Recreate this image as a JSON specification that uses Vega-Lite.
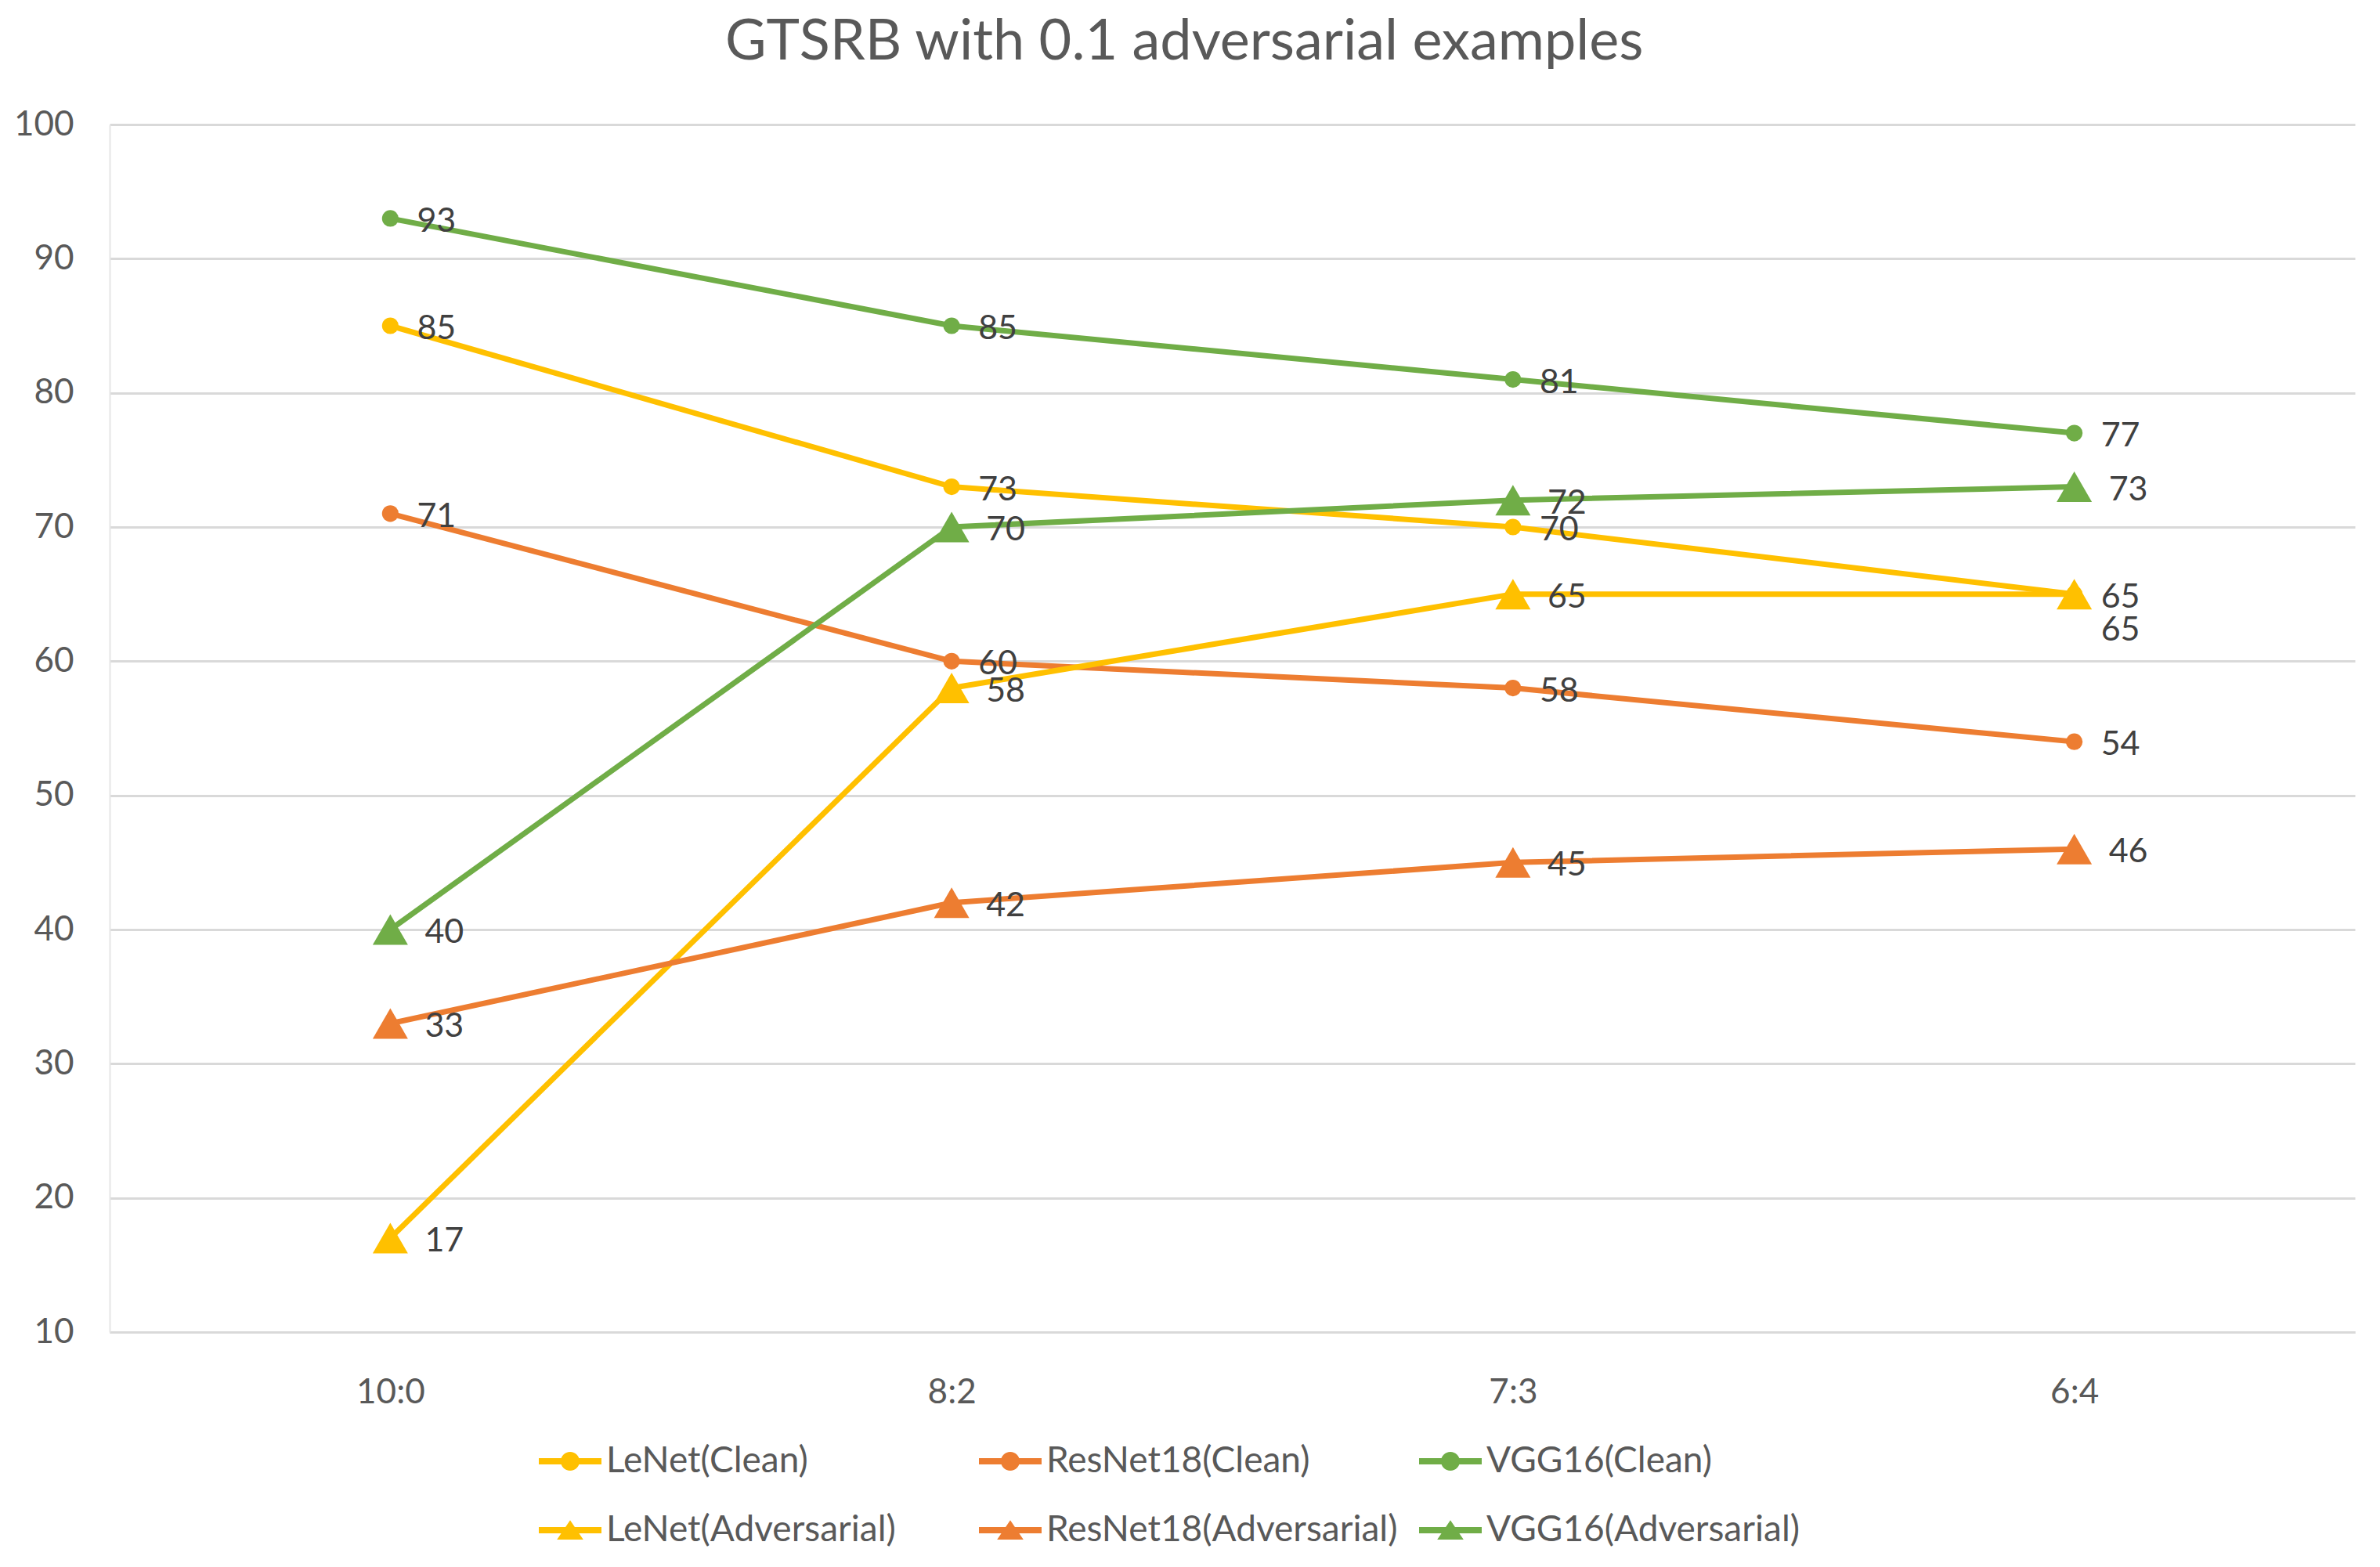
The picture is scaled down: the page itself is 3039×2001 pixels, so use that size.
{
  "$schema": "https://vega.github.io/schema/vega-lite/v6.json",
  "autosize": {"type": "none"},
  "width": 2867,
  "height": 1542,
  "padding": {"left": 140, "right": 32, "top": 159, "bottom": 300},
  "background": "white",
  "title": {
    "text": "GTSRB with 0.1 adversarial examples",
    "fontSize": 72,
    "font": "Lato",
    "fontWeight": "normal",
    "color": "#595959",
    "anchor": "middle",
    "frame": "bounds",
    "offset": 46
  },
  "data": {
    "values": [
      {"ratio": "10:0", "series": "LeNet(Clean)", "kind": "Clean", "value": 85},
      {"ratio": "8:2", "series": "LeNet(Clean)", "kind": "Clean", "value": 73},
      {"ratio": "7:3", "series": "LeNet(Clean)", "kind": "Clean", "value": 70},
      {"ratio": "6:4", "series": "LeNet(Clean)", "kind": "Clean", "value": 65},
      {"ratio": "10:0", "series": "ResNet18(Clean)", "kind": "Clean", "value": 71},
      {"ratio": "8:2", "series": "ResNet18(Clean)", "kind": "Clean", "value": 60},
      {"ratio": "7:3", "series": "ResNet18(Clean)", "kind": "Clean", "value": 58},
      {"ratio": "6:4", "series": "ResNet18(Clean)", "kind": "Clean", "value": 54},
      {"ratio": "10:0", "series": "VGG16(Clean)", "kind": "Clean", "value": 93},
      {"ratio": "8:2", "series": "VGG16(Clean)", "kind": "Clean", "value": 85},
      {"ratio": "7:3", "series": "VGG16(Clean)", "kind": "Clean", "value": 81},
      {"ratio": "6:4", "series": "VGG16(Clean)", "kind": "Clean", "value": 77},
      {"ratio": "10:0", "series": "LeNet(Adversarial)", "kind": "Adversarial", "value": 17},
      {"ratio": "8:2", "series": "LeNet(Adversarial)", "kind": "Adversarial", "value": 58},
      {"ratio": "7:3", "series": "LeNet(Adversarial)", "kind": "Adversarial", "value": 65},
      {"ratio": "6:4", "series": "LeNet(Adversarial)", "kind": "Adversarial", "value": 65},
      {"ratio": "10:0", "series": "ResNet18(Adversarial)", "kind": "Adversarial", "value": 33},
      {"ratio": "8:2", "series": "ResNet18(Adversarial)", "kind": "Adversarial", "value": 42},
      {"ratio": "7:3", "series": "ResNet18(Adversarial)", "kind": "Adversarial", "value": 45},
      {"ratio": "6:4", "series": "ResNet18(Adversarial)", "kind": "Adversarial", "value": 46},
      {"ratio": "10:0", "series": "VGG16(Adversarial)", "kind": "Adversarial", "value": 40},
      {"ratio": "8:2", "series": "VGG16(Adversarial)", "kind": "Adversarial", "value": 70},
      {"ratio": "7:3", "series": "VGG16(Adversarial)", "kind": "Adversarial", "value": 72},
      {"ratio": "6:4", "series": "VGG16(Adversarial)", "kind": "Adversarial", "value": 73}
    ]
  },
  "encoding": {
    "x": {
      "field": "ratio",
      "type": "ordinal",
      "sort": ["10:0", "8:2", "7:3", "6:4"],
      "scale": {"type": "point", "padding": 0.5},
      "title": null,
      "axis": {
        "labelAngle": 0,
        "labelFontSize": 44,
        "labelFont": "Lato",
        "labelColor": "#595959",
        "labelPadding": 55,
        "ticks": false,
        "domainColor": "#d9d9d9",
        "domainWidth": 3,
        "grid": false
      }
    },
    "y": {
      "field": "value",
      "type": "quantitative",
      "scale": {"domain": [10, 100], "nice": false},
      "title": null,
      "axis": {
        "values": [10, 20, 30, 40, 50, 60, 70, 80, 90, 100],
        "labelFontSize": 44,
        "labelFont": "Lato",
        "labelColor": "#595959",
        "labelPadding": 46,
        "ticks": false,
        "domainColor": "#e6e6e6",
        "domainWidth": 2,
        "gridColor": "#d9d9d9",
        "gridWidth": 3
      }
    },
    "color": {
      "field": "series",
      "type": "nominal",
      "scale": {
        "domain": ["LeNet(Clean)", "ResNet18(Clean)", "VGG16(Clean)", "LeNet(Adversarial)", "ResNet18(Adversarial)", "VGG16(Adversarial)"],
        "range": ["#FFC000", "#ED7D31", "#70AD47", "#FFC000", "#ED7D31", "#70AD47"]
      },
      "legend": {
        "title": null,
        "orient": "none",
        "legendX": 548,
        "legendY": 1667,
        "direction": "horizontal",
        "columns": 3,
        "gridAlign": "all",
        "labelFontSize": 46,
        "labelFont": "Lato",
        "labelColor": "#595959",
        "labelOffset": 6,
        "symbolSize": 6400,
        "symbolOpacity": 1,
        "symbolStrokeWidth": 0,
        "labelLimit": 700,
        "columnPadding": 27,
        "rowPadding": 25,
        "padding": 0
      }
    }
  },
  "layer": [
    {
      "mark": {"type": "line", "strokeWidth": 7}
    },
    {
      "transform": [{"filter": "datum.kind == 'Clean'"}],
      "mark": {"type": "point", "filled": true, "opacity": 1, "size": 450, "shape": "circle"}
    },
    {
      "transform": [{"filter": "datum.kind == 'Adversarial'"}],
      "mark": {"type": "point", "filled": true, "opacity": 1, "size": 2025, "shape": "triangle-up"}
    },
    {
      "transform": [{"filter": "false"}],
      "mark": {"type": "point", "filled": true, "opacity": 1},
      "encoding": {
        "shape": {
          "field": "series",
          "type": "nominal",
          "scale": {
            "domain": ["LeNet(Clean)", "ResNet18(Clean)", "VGG16(Clean)", "LeNet(Adversarial)", "ResNet18(Adversarial)", "VGG16(Adversarial)"],
            "range": [
              "M-1,-0.1H1V0.1H-1Z M0.3,0 A0.3,0.3 0 1,1 -0.3,0 A0.3,0.3 0 1,1 0.3,0 Z",
              "M-1,-0.1H1V0.1H-1Z M0.3,0 A0.3,0.3 0 1,1 -0.3,0 A0.3,0.3 0 1,1 0.3,0 Z",
              "M-1,-0.1H1V0.1H-1Z M0.3,0 A0.3,0.3 0 1,1 -0.3,0 A0.3,0.3 0 1,1 0.3,0 Z",
              "M-1,-0.1H1V0.1H-1Z M0,-0.32L0.42,0.3H-0.42Z",
              "M-1,-0.1H1V0.1H-1Z M0,-0.32L0.42,0.3H-0.42Z",
              "M-1,-0.1H1V0.1H-1Z M0,-0.32L0.42,0.3H-0.42Z"
            ]
          }
        }
      }
    },
    {
      "transform": [{"filter": "datum.kind == 'Clean'"}],
      "mark": {"type": "text", "align": "left", "baseline": "middle", "dx": 34, "dy": 4, "fontSize": 43, "font": "Lato", "color": "#404040"},
      "encoding": {"text": {"field": "value", "type": "quantitative"}, "color": {"value": "#404040"}}
    },
    {
      "transform": [{"filter": "datum.kind == 'Adversarial' && !(datum.series == 'LeNet(Adversarial)' && datum.ratio == '6:4')"}],
      "mark": {"type": "text", "align": "left", "baseline": "middle", "dx": 44, "dy": 4, "fontSize": 43, "font": "Lato", "color": "#404040"},
      "encoding": {"text": {"field": "value", "type": "quantitative"}, "color": {"value": "#404040"}}
    },
    {
      "transform": [{"filter": "datum.series == 'LeNet(Adversarial)' && datum.ratio == '6:4'"}],
      "mark": {"type": "text", "align": "left", "baseline": "middle", "dx": 34, "dy": 46, "fontSize": 43, "font": "Lato", "color": "#404040"},
      "encoding": {"text": {"field": "value", "type": "quantitative"}, "color": {"value": "#404040"}}
    }
  ],
  "config": {
    "view": {"stroke": null}
  }
}
